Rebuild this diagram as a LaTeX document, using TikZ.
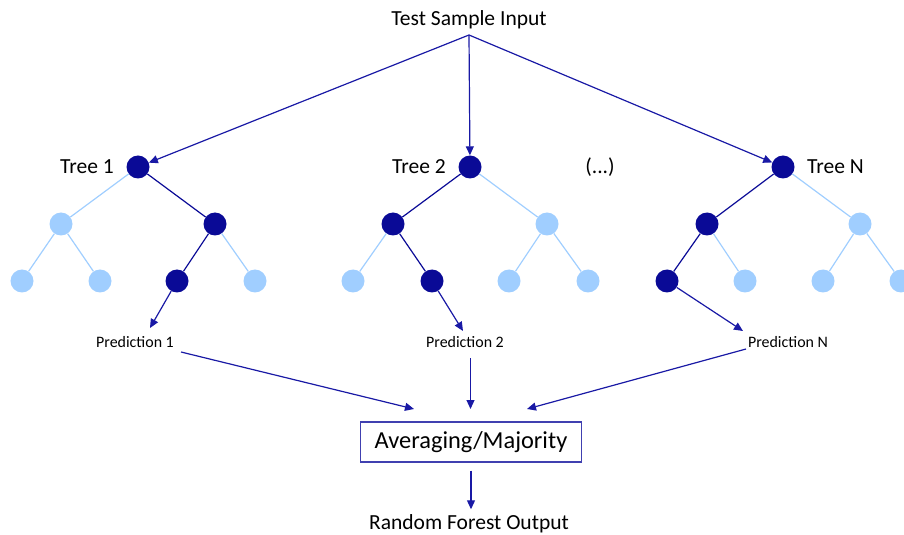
\documentclass[tikz,border=0pt]{standalone}
\usepackage{fontspec}
\setmainfont{Carlito}
\usetikzlibrary{arrows.meta,positioning}

\definecolor{dkblue}{RGB}{10,10,150}
\definecolor{ltblue}{RGB}{160,206,255}
\definecolor{arblue}{RGB}{25,25,165}
\definecolor{boxblue}{RGB}{64,64,176}

\tikzset{
  hit/.style={circle,fill=dkblue,minimum size=23bp,inner sep=0pt},
  miss/.style={circle,fill=ltblue,minimum size=23bp,inner sep=0pt},
  hitedge/.style={dkblue,line width=1.2bp},
  missedge/.style={ltblue,line width=1.2bp},
  flow/.style={arblue,line width=1.2bp,-{Triangle[length=9bp,width=8bp]}},
  big/.style={font=\fontsize{21.6}{24}\selectfont},
  small/.style={font=\fontsize{16}{18}\selectfont}
}

\begin{document}
\begin{tikzpicture}[x=1bp,y=-1bp]
   \useasboundingbox (0,0) rectangle (904,535);
   % Input
   \node[big] (in) at (469,20) {Test Sample Input};
   \coordinate (split) at (469,35);
   % Tree 1
   \node[hit]  (r1)   at (138,167) {};
   \node[miss] (r1l)  at (61,224) {};
   \node[hit]  (r1r)  at (215,224) {};
   \node[miss] (r1ll) at (22,281) {};
   \node[miss] (r1lr) at (100,281) {};
   \node[hit]  (r1rl) at (177,281) {};
   \node[miss] (r1rr) at (255,281) {};
   \node[big,left=9bp of r1] (t1) {Tree 1};
   \draw[missedge] (r1) -- (r1l);
   \draw[missedge] (r1l) -- (r1ll);
   \draw[missedge] (r1l) -- (r1lr);
   \draw[missedge] (r1r) -- (r1rr);
   \draw[hitedge] (r1) -- (r1r);
   \draw[hitedge] (r1r) -- (r1rl);
   % Tree 2
   \node[hit]  (r2)   at (470,167) {};
   \node[hit]  (r2l)  at (393,224) {};
   \node[miss] (r2r)  at (547,224) {};
   \node[miss] (r2ll) at (353,281) {};
   \node[hit]  (r2lr) at (432,281) {};
   \node[miss] (r2rl) at (509,281) {};
   \node[miss] (r2rr) at (588,281) {};
   \node[big,left=9bp of r2] (t2) {Tree 2};
   \draw[missedge] (r2) -- (r2r);
   \draw[missedge] (r2r) -- (r2rl);
   \draw[missedge] (r2r) -- (r2rr);
   \draw[missedge] (r2l) -- (r2ll);
   \draw[hitedge] (r2) -- (r2l);
   \draw[hitedge] (r2l) -- (r2lr);
   \node[big] (dots) at (600,167) {(...)};
   % Tree N
   \node[hit]  (rN)   at (783,167) {};
   \node[hit]  (rNl)  at (707,224) {};
   \node[miss] (rNr)  at (860,224) {};
   \node[hit]  (rNll) at (667,281) {};
   \node[miss] (rNlr) at (745,281) {};
   \node[miss] (rNrl) at (823,281) {};
   \node[miss] (rNrr) at (901,281) {};
   \node[big,right=9bp of rN] (tN) {Tree N};
   \draw[missedge] (rN) -- (rNr);
   \draw[missedge] (rNr) -- (rNrl);
   \draw[missedge] (rNr) -- (rNrr);
   \draw[missedge] (rNl) -- (rNlr);
   \draw[hitedge] (rN) -- (rNl);
   \draw[hitedge] (rNl) -- (rNll);
   % Input to each tree
   \draw[flow] (split) -- (r1);
   \draw[flow] (split) -- (r2);
   \draw[flow] (split) -- (rN);
   % Predictions
   \node[small] (p1) at (135,342) {Prediction 1};
   \node[small] (p2) at (465,342) {Prediction 2};
   \node[small] (pN) at (788,342) {Prediction N};
   \coordinate (e1) at (150,328);
   \coordinate (e2) at (463,331);
   \coordinate (eN) at (743,331);
   \draw[flow] (r1rl) -- (e1);
   \draw[flow] (r2lr) -- (e2);
   \draw[flow] (rNll) -- (eN);
   % Averaging
   \node[draw=boxblue,line width=1.2bp,minimum width=221bp,minimum height=40bp,
         font=\fontsize{24.5}{27}\selectfont] (avg) at (471,442) {Averaging/Majority};
   \coordinate (s1) at (181,352);
   \coordinate (s2) at (470.5,358);
   \coordinate (sN) at (746,349);
   \coordinate (a1) at (414,409);
   \coordinate (a2) at (470.5,409);
   \coordinate (aN) at (527,409);
   \draw[flow] (s1) -- (a1);
   \draw[flow] (s2) -- (a2);
   \draw[flow] (sN) -- (aN);
   % Output
   \node[big] (out) at (469,524) {Random Forest Output};
   \draw[flow,shorten <=8bp,shorten >=2bp] (avg.south) -- (avg.south |- out.north);
\end{tikzpicture}
\end{document}
